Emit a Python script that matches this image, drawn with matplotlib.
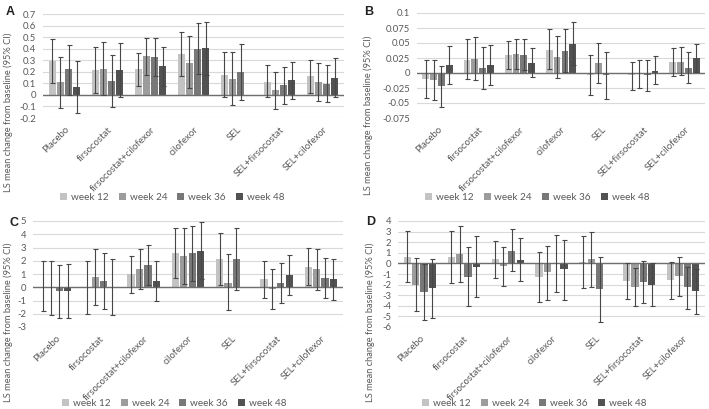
import numpy as np
import matplotlib
matplotlib.use("Agg")
import matplotlib.pyplot as plt

plt.rcParams["font.family"] = ["Lato", "DejaVu Sans"]

nan = np.nan

groups = ["Placebo", "firsocostat", "firsocostat+cilofexor", "cilofexor",
          "SEL", "SEL+firsocostat", "SEL+cilofexor"]
weeks = ["week 12", "week 24", "week 36", "week 48"]
week_colors = ["#c3c3c3", "#9c9c9c", "#787878", "#525252"]

# rows = weeks (12, 24, 36, 48), columns = groups
a_mean = [[0.295, 0.215, 0.22, 0.35, 0.175, 0.115, 0.16],
          [0.11, 0.225, 0.335, 0.28, 0.14, 0.04, 0.11],
          [0.22, 0.12, 0.33, 0.40, 0.195, 0.085, 0.095],
          [0.065, 0.215, 0.25, 0.405, nan, 0.125, 0.145]]
a_lo = [[0.10, 0.02, 0.08, 0.16, -0.02, -0.02, 0.02],
        [-0.11, 0.0, 0.17, 0.06, -0.09, -0.12, -0.05],
        [0.0, -0.105, 0.165, 0.18, -0.045, -0.075, -0.065],
        [-0.16, -0.02, 0.08, 0.17, nan, -0.035, -0.02]]
a_hi = [[0.485, 0.415, 0.36, 0.54, 0.375, 0.255, 0.30],
        [0.33, 0.455, 0.495, 0.51, 0.37, 0.20, 0.275],
        [0.43, 0.345, 0.49, 0.62, 0.44, 0.24, 0.26],
        [0.29, 0.45, 0.415, 0.635, nan, 0.285, 0.315]]

b_mean = [[-0.010, 0.022, 0.030, 0.039, -0.003, -0.004, 0.018],
          [-0.012, 0.024, 0.031, 0.026, 0.016, -0.001, 0.019],
          [-0.022, 0.008, 0.030, 0.037, -0.004, -0.003, 0.009],
          [0.013, 0.013, 0.017, 0.049, nan, 0.004, 0.025]]
b_lo = [[-0.042, -0.010, 0.007, 0.006, -0.037, -0.028, -0.005],
        [-0.045, -0.011, 0.006, -0.009, -0.017, -0.025, -0.004],
        [-0.056, -0.027, 0.005, 0.001, -0.043, -0.030, -0.016],
        [-0.018, -0.020, -0.006, 0.014, nan, -0.019, 0.001]]
b_hi = [[0.021, 0.057, 0.054, 0.073, 0.030, 0.019, 0.042],
        [0.022, 0.060, 0.057, 0.062, 0.050, 0.022, 0.043],
        [0.011, 0.044, 0.056, 0.073, 0.035, 0.022, 0.035],
        [0.045, 0.047, 0.041, 0.085, nan, 0.028, 0.049]]

c_mean = [[0.05, 0.0, 1.0, 2.6, 2.1, 0.6, 1.55],
          [0.0, 0.75, 1.4, 2.35, 0.35, -0.1, 1.35],
          [-0.3, 0.5, 1.7, 2.55, 2.1, 0.3, 0.7],
          [-0.25, 0.0, 0.5, 2.75, nan, 0.9, 0.6]]
c_lo = [[-1.8, -2.0, -0.4, 0.7, 0.15, -0.8, 0.15],
        [-2.1, -1.35, -0.1, 0.25, -1.7, -1.65, -0.2],
        [-2.35, -1.65, 0.2, 0.45, -0.2, -1.2, -0.8],
        [-2.3, -2.1, -1.0, 0.6, nan, -0.55, -0.95]]
c_hi = [[2.0, 1.95, 2.35, 4.5, 4.1, 1.95, 2.95],
        [2.0, 2.9, 2.9, 4.45, 2.5, 1.35, 2.9],
        [1.7, 2.6, 3.2, 4.6, 4.45, 1.8, 2.2],
        [1.75, 2.15, 2.0, 4.9, nan, 2.4, 2.15]]

d_mean = [[0.65, 0.65, 0.4, -1.25, 0.15, -1.65, -1.55],
          [-2.0, 0.85, -0.25, -0.85, 0.4, -2.2, -1.15],
          [-2.7, -1.25, 1.2, 0.0, -2.45, -1.75, -2.25],
          [-2.35, -0.3, 0.35, -0.55, nan, -2.0, -2.65]]
d_lo = [[-1.75, -1.85, -1.35, -3.65, -2.3, -3.4, -3.35],
        [-4.5, -1.75, -2.15, -3.45, -2.2, -4.05, -3.05],
        [-5.35, -4.05, -0.7, -2.7, -5.5, -3.7, -4.3],
        [-5.15, -3.2, -1.65, -3.45, nan, -4.05, -4.75]]
d_hi = [[3.05, 3.1, 2.15, 1.1, 2.6, 0.05, 0.15],
        [0.5, 3.5, 1.55, 1.65, 2.95, -0.4, 0.65],
        [-0.05, 1.5, 3.2, 2.7, 0.6, 0.2, -0.3],
        [0.45, 2.6, 2.4, 2.25, nan, 0.0, -0.55]]

W, H = 709, 409
text_color = "#595959"


def px_axes(fig, left, right, top, bottom):
    return fig.add_axes([left / W, 1 - bottom / H, (right - left) / W, (bottom - top) / H])


def draw_panel(fig, box, means, los, his, ylim, yticks, yticklabels,
               letter, letter_xy, ylabel_xy, legend_xy):
    ax = px_axes(fig, *box)
    x = np.arange(len(groups))
    step, width = 0.19, 0.165
    handles = []
    for i in range(len(weeks)):
        m = np.array(means[i], dtype=float)
        lo = np.array(los[i], dtype=float)
        hi = np.array(his[i], dtype=float)
        xi = x + (i - 1.5) * step
        h = ax.bar(xi, m, width, color=week_colors[i], zorder=2)
        handles.append(h)
        ax.errorbar(xi, m, yerr=[m - lo, hi - m], fmt="none", ecolor="#474747",
                    elinewidth=0.8, capsize=1.8, capthick=0.8, zorder=3)
    ax.axhline(0, color="#6e6e6e", lw=1.0, zorder=2.5)
    ax.set_xlim(-0.5, len(groups) - 0.5)
    ax.set_ylim(*ylim)
    ax.set_yticks(yticks)
    ax.set_yticklabels(yticklabels)
    ax.yaxis.grid(True, color="#d9d9d9", lw=0.8, zorder=0)
    ax.set_axisbelow(True)
    for s in ax.spines.values():
        s.set_visible(False)
    ax.tick_params(axis="both", length=0, labelsize=6.8, colors=text_color, pad=5)
    ax.set_xticks(x)
    ax.set_xticklabels(groups, rotation=45, ha="right", va="top",
                       rotation_mode="anchor", fontsize=6.9, color=text_color)
    ax.tick_params(axis="x", pad=5)

    fig.text(letter_xy[0] / W, 1 - letter_xy[1] / H, letter, fontsize=9,
             fontweight="bold", ha="left", va="center", color="#222222",
             family=["Liberation Sans", "DejaVu Sans"])
    fig.text(ylabel_xy[0] / W, 1 - ylabel_xy[1] / H,
             "LS mean change from baseline (95% CI)", rotation=90,
             fontsize=6.7, ha="center", va="center", color=text_color)
    fig.legend(handles, weeks, loc="center", ncol=4, frameon=False,
               bbox_to_anchor=(legend_xy[0] / W, 1 - legend_xy[1] / H),
               fontsize=7.2, handlelength=0.7, handleheight=0.7,
               handletextpad=0.4, columnspacing=1.0, labelcolor=text_color)
    return ax


fig = plt.figure(figsize=(W / 100, H / 100), dpi=100)

draw_panel(fig, (43, 344, 14, 118), a_mean, a_lo, a_hi, (-0.2, 0.7),
           np.arange(-0.2, 0.71, 0.1),
           ["-0.2", "-0.1", "0", "0.1", "0.2", "0.3", "0.4", "0.5", "0.6", "0.7"],
           "A", (6, 12), (8, 112), (172, 197))

draw_panel(fig, (417, 705, 13, 118), b_mean, b_lo, b_hi, (-0.075, 0.1),
           np.arange(-0.075, 0.101, 0.025),
           ["-0.075", "-0.05", "-0.025", "0", "0.025", "0.05", "0.075", "0.1"],
           "B", (364, 12), (368, 115), (537, 197))

draw_panel(fig, (33, 343, 221, 327), c_mean, c_lo, c_hi, (-3, 5),
           np.arange(-3, 6, 1), [str(v) for v in range(-3, 6)],
           "C", (10, 223), (8, 322), (174, 403))

draw_panel(fig, (398, 705, 221, 327), d_mean, d_lo, d_hi, (-6, 4),
           np.arange(-6, 5, 1), [str(v) for v in range(-6, 5)],
           "D", (366, 222), (370, 322), (534, 403))

fig.savefig("out.png", dpi=100)
plt.close(fig)
